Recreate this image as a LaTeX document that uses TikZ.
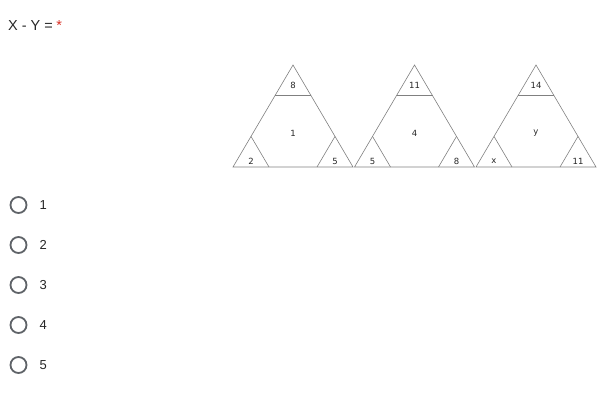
\documentclass[tikz,border=0pt]{standalone}
\usepackage{fontspec}
\setmainfont{Liberation Sans}
\newfontfamily\figfont{DejaVu Sans}
\definecolor{radiogray}{HTML}{5F6368}
\definecolor{askred}{HTML}{D93025}

\begin{document}
\begin{tikzpicture}[x=1pt,y=-1pt,
  e/.style={draw=black!50,line width=0.6pt},
  num/.style={font=\figfont\fontsize{8.5}{10}\selectfont,inner sep=0pt,text=black!85},
  radio/.style={circle,draw=radiogray,line width=1.8pt,minimum size=16pt,inner sep=0pt},
  opt/.style={font=\fontsize{13}{15}\selectfont,text=black!85,anchor=west,inner sep=0pt}]
  \useasboundingbox (0,0) rectangle (612,404);
  % question
  \node[font=\fontsize{14.5}{16}\selectfont,text=black!85,anchor=west,inner sep=0pt] (q) at (8,26) {X - Y =};
  \node[font=\fontsize{14.5}{16}\selectfont,text=askred,anchor=west,inner sep=0pt] (star) at ([xshift=3pt]q.east) {*};
  % triangles: number/left x/top/centre/left corner/right corner
  \foreach \n/\xx/\t/\c/\l/\r in {1/233/8/1/2/5,2/354.5/11/4/5/8,3/476/14/y/x/11} {
    \coordinate (a\n) at (\xx,167); \coordinate (b\n) at (\xx+120,167); \coordinate (c\n) at (\xx+60,65);
    \draw[e] (a\n)--(b\n)--(c\n)--cycle;
    \coordinate (tl\n) at (\xx+42,95.6); \coordinate (tr\n) at (\xx+78,95.6);
    \draw[e] (tl\n)--(tr\n);
    \coordinate (la\n) at (\xx+18,136.4); \coordinate (lb\n) at (\xx+36,167);
    \draw[e] (la\n)--(lb\n);
    \coordinate (ra\n) at (\xx+102,136.4); \coordinate (rb\n) at (\xx+84,167);
    \draw[e] (ra\n)--(rb\n);
    \node[num] (top\n) at (\xx+60,85) {\t};
    \node[num] (mid\n) at (\xx+60,133) {\c};
    \node[num] (lft\n) at (\xx+18,161) {\l};
    \node[num] (rgt\n) at (\xx+102,161) {\r};
  }
  % answer choices
  \foreach \k/\yy in {1/205,2/245,3/285,4/325,5/365} {
    \node[radio] (r\k) at (18.5,\yy) {};
    \node[opt] (o\k) at (39.5,\yy) {\k};
  }
\end{tikzpicture}
\end{document}
